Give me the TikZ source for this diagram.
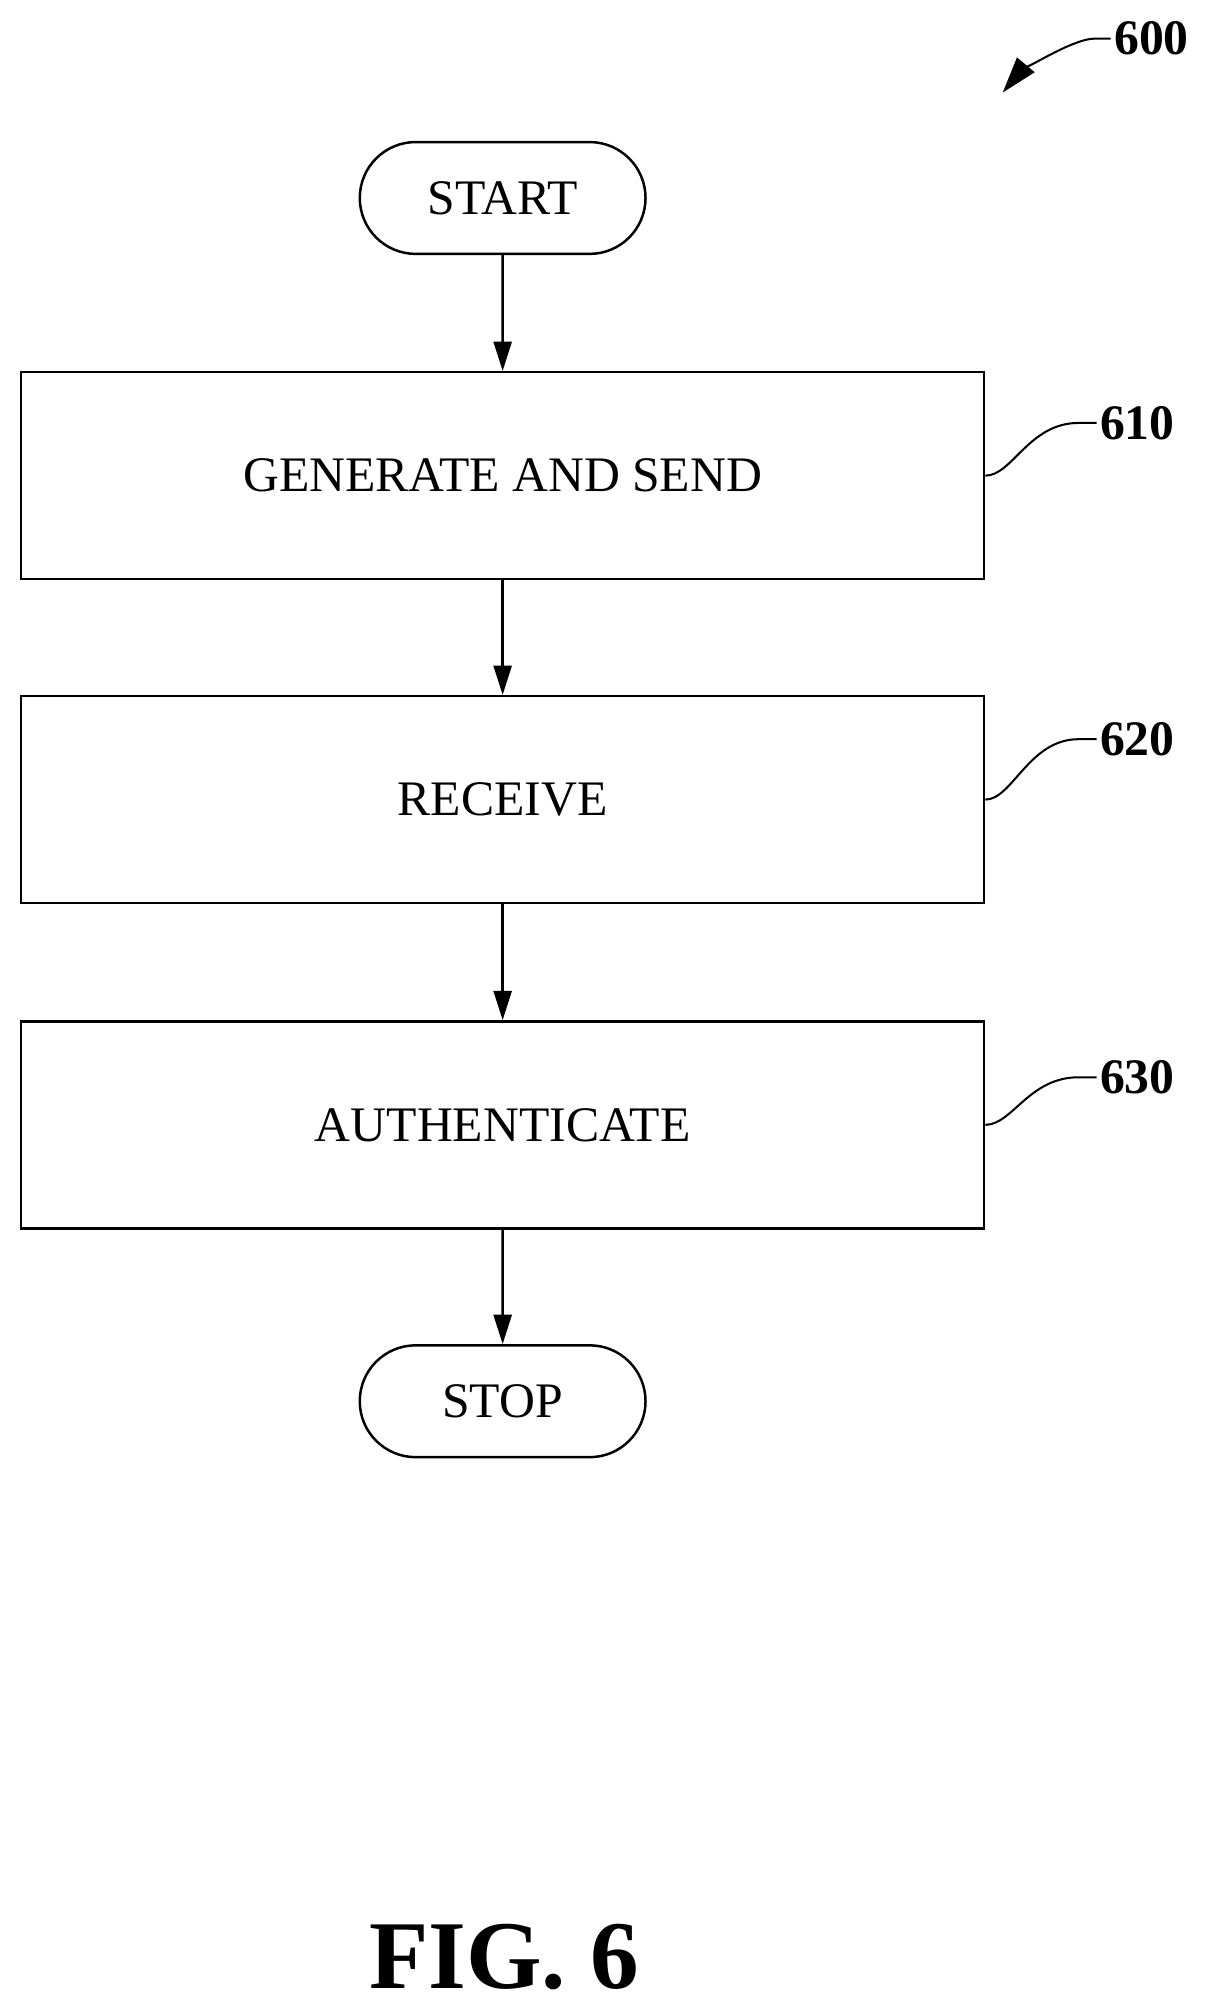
\documentclass[tikz,border=0pt]{standalone}
\usepackage{fontspec}
\setmainfont{Liberation Serif}
\usetikzlibrary{arrows.meta,shapes.misc}
\begin{document}
\begin{tikzpicture}[x=0.02cm,y=-0.02cm,line width=1.1pt,
  box/.style={draw,minimum width=749*0.02cm,minimum height=161*0.02cm,font=\fontsize{22}{26}\selectfont},
  term/.style={draw,rounded rectangle,minimum width=234*0.02cm,minimum height=87*0.02cm,font=\fontsize{22}{26}\selectfont},
  arr/.style={-{Triangle[length=13pt,width=8pt]}},
  lbl/.style={font=\bfseries\fontsize{22}{26}\selectfont,anchor=west,inner sep=1pt}]
\useasboundingbox (0,0) rectangle (937,1562);
\node[term] (start) at (391,154) {START};
\node[box] (b1) at (391,370) {GENERATE AND SEND};
\node[box] (b2) at (391,622) {RECEIVE};
\node[box] (b3) at (391,875) {AUTHENTICATE};
\node[term] (stop) at (391,1090) {STOP};
\draw[arr] (start) -- (b1);
\draw[arr] (b1) -- (b2);
\draw[arr] (b2) -- (b3);
\draw[arr] (b3) -- (stop);
\node[lbl] (l610) at (853,329) {610};
\node[lbl] (l620) at (853,575) {620};
\node[lbl] (l630) at (853,838) {630};
\node[lbl] (l600) at (864,30) {600};
\foreach \b/\l in {b1/l610,b2/l620,b3/l630}
  \draw[line width=0.9pt] (\b.east) .. controls ([xshift=12]\b.east) and ([xshift=-30]\l.west) .. ([xshift=-8]\l.west) -- (\l.west);
\draw[line width=0.9pt,-{Triangle[length=16pt,width=10pt]}] (l600.west) -- ++(-12,0) .. controls ++(-20,0) and ++(10,-12) .. (780,72);
\node[font=\bfseries\fontsize{43}{48}\selectfont] (fig) at (392,1522) {FIG. 6};
\end{tikzpicture}
\end{document}
